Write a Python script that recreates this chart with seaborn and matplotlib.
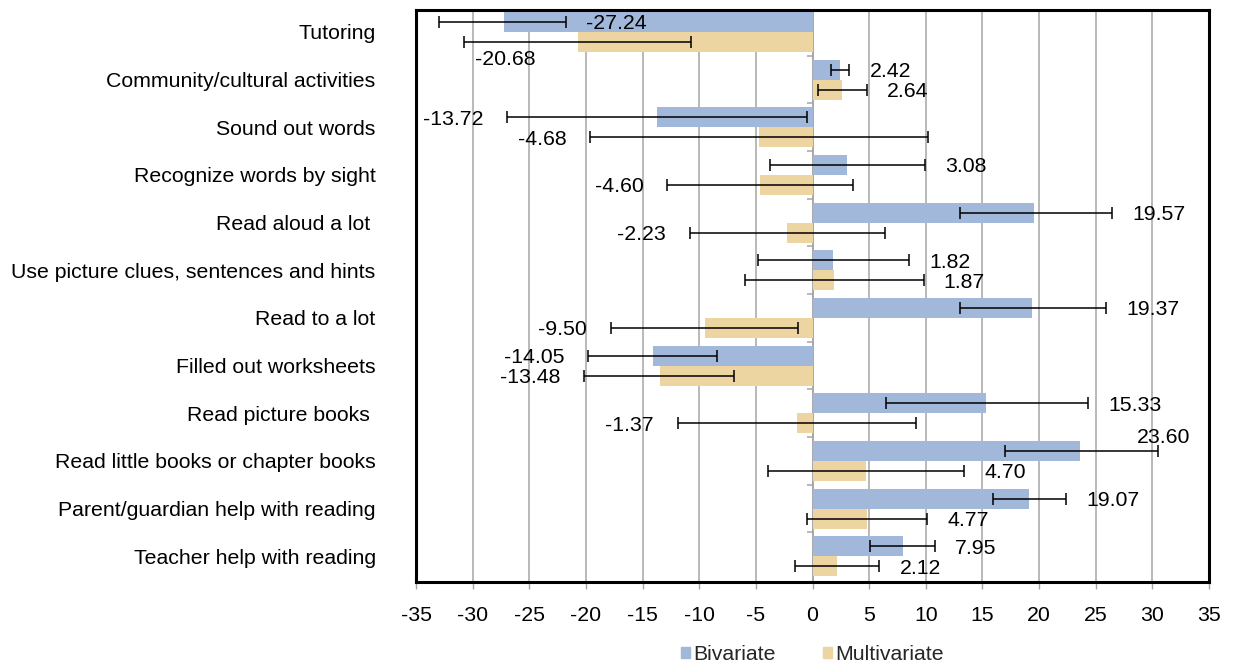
import matplotlib
matplotlib.use("Agg")
import matplotlib.pyplot as plt
import matplotlib.patches as mpatches
import numpy as np
import pandas as pd
import seaborn as sns

categories = [
    "Tutoring",
    "Community/cultural activities",
    "Sound out words",
    "Recognize words by sight",
    "Read aloud a lot ",
    "Use picture clues, sentences and hints",
    "Read to a lot",
    "Filled out worksheets",
    "Read picture books ",
    "Read little books or chapter books",
    "Parent/guardian help with reading",
    "Teacher help with reading",
]
series = ["Bivariate", "Multivariate"]

biv = [-27.24, 2.42, -13.72, 3.08, 19.57, 1.82, 19.37, -14.05, 15.33, 23.60, 19.07, 7.95]
multi = [-20.68, 2.64, -4.68, -4.60, -2.23, 1.87, -9.50, -13.48, -1.37, 4.70, 4.77, 2.12]

biv_lo = [-33.0, 1.6, -27.0, -3.75, 13.0, -4.8, 13.0, -19.8, 6.5, 17.0, 15.9, 5.1]
biv_hi = [-21.8, 3.25, -0.5, 9.95, 26.45, 8.5, 25.95, -8.45, 24.3, 30.5, 22.4, 10.8]
multi_lo = [-30.8, 0.5, -19.6, -12.8, -10.85, -6.0, -17.8, -20.2, -11.9, -3.9, -0.45, -1.55]
multi_hi = [-10.75, 4.8, 10.2, 3.55, 6.4, 9.8, -1.3, -6.9, 9.15, 13.4, 10.1, 5.9]

# label placement style per bar
biv_place = ["right", "right", "left", "right", "right", "right", "right", "left", "right", "above", "right", "right"]
multi_place = ["below", "right", "left", "left", "left", "right", "left", "left", "left", "right", "right", "right"]

colors = ["#A2B8DA", "#EDD5A1"]
grid_color = "#A6A6A6"
fs = 15.3

sns.set_theme(style="white")
plt.rcParams["font.family"] = ["Liberation Sans", "DejaVu Sans"]
plt.rcParams["axes.unicode_minus"] = False

df = pd.DataFrame({
    "Category": categories * 2,
    "Series": [series[0]] * len(categories) + [series[1]] * len(categories),
    "Value": biv + multi,
})

fig = plt.figure(figsize=(12.33, 6.66), dpi=100)
ax = fig.add_axes([416 / 1233, 84 / 666, 793 / 1233, 572 / 666])

ax.set_axisbelow(True)
ax.xaxis.grid(True, color=grid_color, lw=1.1)
ax.yaxis.grid(False)

sns.barplot(data=df, y="Category", x="Value", hue="Series", order=categories,
            hue_order=series, palette=colors, width=0.84, gap=0, saturation=1,
            errorbar=None, linewidth=0, legend=False, ax=ax, orient="h")

lows = [biv_lo, multi_lo]
highs = [biv_hi, multi_hi]
vals = [biv, multi]
places = [biv_place, multi_place]

bar_conts = list(ax.containers)
for si, cont in enumerate(bar_conts):
    for j, patch in enumerate(cont.patches):
        yc = patch.get_y() + patch.get_height() / 2
        v = vals[si][j]
        lo = lows[si][j]
        hi = highs[si][j]
        ax.errorbar(x=[v], y=[yc], xerr=[[v - lo], [hi - v]], fmt="none",
                    ecolor="black", elinewidth=1.1, capsize=4.3, capthick=1.1, zorder=5)
        p = places[si][j]
        txt = f"{v:.2f}"
        kw = dict(textcoords="offset points", va="center_baseline", fontsize=fs, color="black")
        if p == "right":
            ax.annotate(txt, xy=(hi, yc), xytext=(14.5, 0), ha="left", **kw)
        elif p == "left":
            ax.annotate(txt, xy=(lo, yc), xytext=(-17, 0), ha="right", **kw)
        elif p == "below":
            ax.annotate(txt, xy=(lo, yc), xytext=(8, -11), ha="left", **kw)
        elif p == "above":
            ax.annotate(txt, xy=(hi, yc), xytext=(4, 11), ha="center", **kw)

# zero axis line and category boundary ticks
ax.axvline(0, color=grid_color, lw=1.1, zorder=0.8)
bounds = np.arange(len(categories) - 1) + 0.5
ax.hlines(bounds, -0.5, 0, color=grid_color, lw=1.1, zorder=0.8)

n = len(categories)
ax.set_ylim(n - 0.5 + 0.04, -0.5 + 0.04)
ax.set_xlim(-35, 35)
ax.set_xticks(np.arange(-35, 36, 5))
ax.set_xlabel("")
ax.set_ylabel("")

ax.tick_params(axis="x", bottom=True, length=5, width=1, color=grid_color,
               pad=12, labelsize=fs, labelcolor="black")
ax.tick_params(axis="y", left=False, length=0, pad=29, labelsize=fs, labelcolor="black")

for s in ax.spines.values():
    s.set_color("black")
    s.set_linewidth(2.2)
    s.set_visible(True)

handles = [mpatches.Patch(color=c, label=l) for c, l in zip(colors, series)]
ax.legend(handles=handles, loc="center", bbox_to_anchor=(0.5, -0.127), ncol=2,
          frameon=False, fontsize=fs, handlelength=0.45, handleheight=0.45,
          handletextpad=0.15, columnspacing=2.2, borderaxespad=0)

fig.savefig("out.png", dpi=100)
